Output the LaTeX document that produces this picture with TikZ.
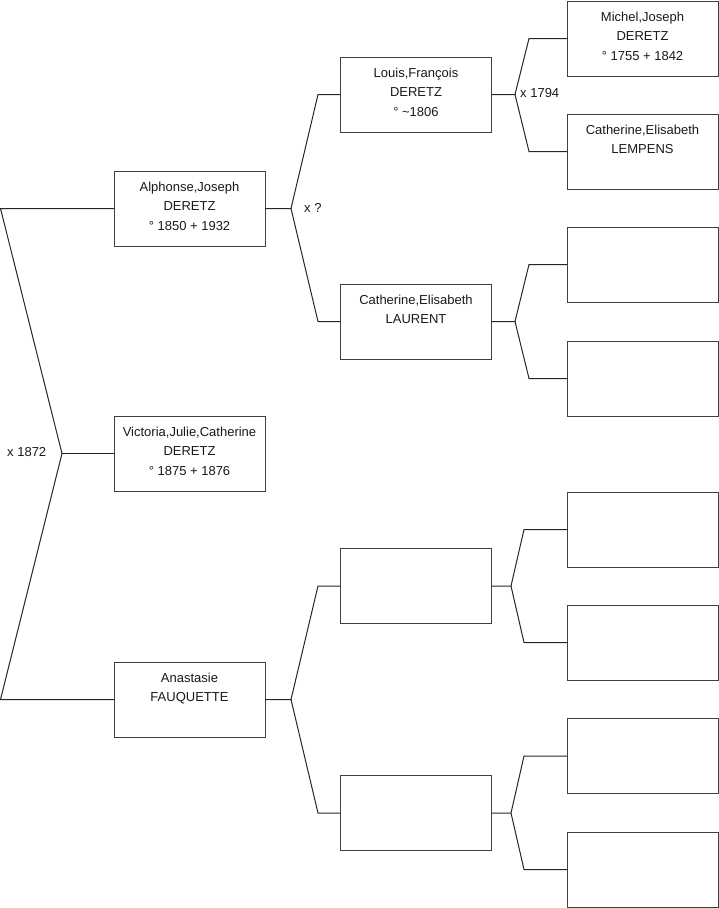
\documentclass[tikz,border=0pt]{standalone}
\usepackage{fontspec}
\setmainfont{Liberation Sans}
\begin{document}
\begin{tikzpicture}[x=1pt,y=-1pt,
  personbox/.style={draw=black!75,line width=1pt,minimum width=151pt,minimum height=75pt,inner sep=0pt,outer sep=0pt},
  persontext/.style={anchor=north,inner sep=0pt,align=center,text=black!90,font=\fontsize{13}{19.5}\selectfont},
  link/.style={draw=black!85,line width=1pt,line join=miter},
  marr/.style={anchor=west,inner sep=0pt,text=black!90,font=\fontsize{13}{15}\selectfont}]
\useasboundingbox (0,0) rectangle (719,908);
% generation 1
\node[personbox] (g1a) at (189.5,208.5) {};
\node[personbox] (g1b) at (189.5,453.5) {};
\node[personbox] (g1c) at (189.5,699.5) {};
% generation 2
\node[personbox] (g2a) at (416,94.5) {};
\node[personbox] (g2b) at (416,321.5) {};
\node[personbox] (g2c) at (416,586) {};
\node[personbox] (g2d) at (416,813) {};
% generation 3
\node[personbox] (g3a) at (642.5,38.5) {};
\node[personbox] (g3b) at (642.5,151.5) {};
\node[personbox] (g3c) at (642.5,264.5) {};
\node[personbox] (g3d) at (642.5,378.5) {};
\node[personbox] (g3e) at (642.5,529.5) {};
\node[personbox] (g3f) at (642.5,642.5) {};
\node[personbox] (g3g) at (642.5,756) {};
\node[personbox] (g3h) at (642.5,869.5) {};
% texts
\node[persontext] (t1a) at ([yshift=-10.5pt]g1a.north) {Alphonse,Joseph\\DERETZ\\° 1850 + 1932};
\node[persontext] (t1b) at ([yshift=-10.5pt]g1b.north) {Victoria,Julie,Catherine\\DERETZ\\° 1875 + 1876};
\node[persontext] (t1c) at ([yshift=-10.5pt]g1c.north) {Anastasie\\FAUQUETTE};
\node[persontext] (t2a) at ([yshift=-10.5pt]g2a.north) {Louis,François\\DERETZ\\° \textasciitilde1806};
\node[persontext] (t2b) at ([yshift=-10.5pt]g2b.north) {Catherine,Elisabeth\\LAURENT};
\node[persontext] (t3a) at ([yshift=-10.5pt]g3a.north) {Michel,Joseph\\DERETZ\\° 1755 + 1842};
\node[persontext] (t3b) at ([yshift=-10.5pt]g3b.north) {Catherine,Elisabeth\\LEMPENS};
% junction points
\coordinate (ja) at (0.5,208.5);
\coordinate (jb) at (62,453.5);
\coordinate (jc) at (0.5,699.5);
\coordinate (k1) at (291,208.5);
\coordinate (k1u) at (318,94.5);
\coordinate (k1d) at (318,321.5);
\coordinate (k2) at (291,699.5);
\coordinate (k2u) at (318,586);
\coordinate (k2d) at (318,813);
\coordinate (m1) at (515,94.5);
\coordinate (m1u) at (529,38.5);
\coordinate (m1d) at (529,151.5);
\coordinate (m2) at (515,321.5);
\coordinate (m2u) at (529,264.5);
\coordinate (m2d) at (529,378.5);
\coordinate (m3) at (511,586);
\coordinate (m3u) at (524,529.5);
\coordinate (m3d) at (524,642.5);
\coordinate (m4) at (511,813);
\coordinate (m4u) at (524,756);
\coordinate (m4d) at (524,869.5);
% connectors
\draw[link] (g1a.west) -- (ja) -- (jb) -- (jc) -- (g1c.west);
\draw[link] (jb) -- (g1b.west);
\draw[link] (g1a.east) -- (k1) -- (k1u) -- (g2a.west);
\draw[link] (k1) -- (k1d) -- (g2b.west);
\draw[link] (g1c.east) -- (k2) -- (k2u) -- (g2c.west);
\draw[link] (k2) -- (k2d) -- (g2d.west);
\draw[link] (g2a.east) -- (m1) -- (m1u) -- (g3a.west);
\draw[link] (m1) -- (m1d) -- (g3b.west);
\draw[link] (g2b.east) -- (m2) -- (m2u) -- (g3c.west);
\draw[link] (m2) -- (m2d) -- (g3d.west);
\draw[link] (g2c.east) -- (m3) -- (m3u) -- (g3e.west);
\draw[link] (m3) -- (m3d) -- (g3f.west);
\draw[link] (g2d.east) -- (m4) -- (m4u) -- (g3g.west);
\draw[link] (m4) -- (m4d) -- (g3h.west);
% marriage labels
\node[marr] (x1) at (7,452.5) {x 1872};
\node[marr] (x2) at (304,207.5) {x ?};
\node[marr] (x3) at (520,93.5) {x 1794};
\end{tikzpicture}
\end{document}
